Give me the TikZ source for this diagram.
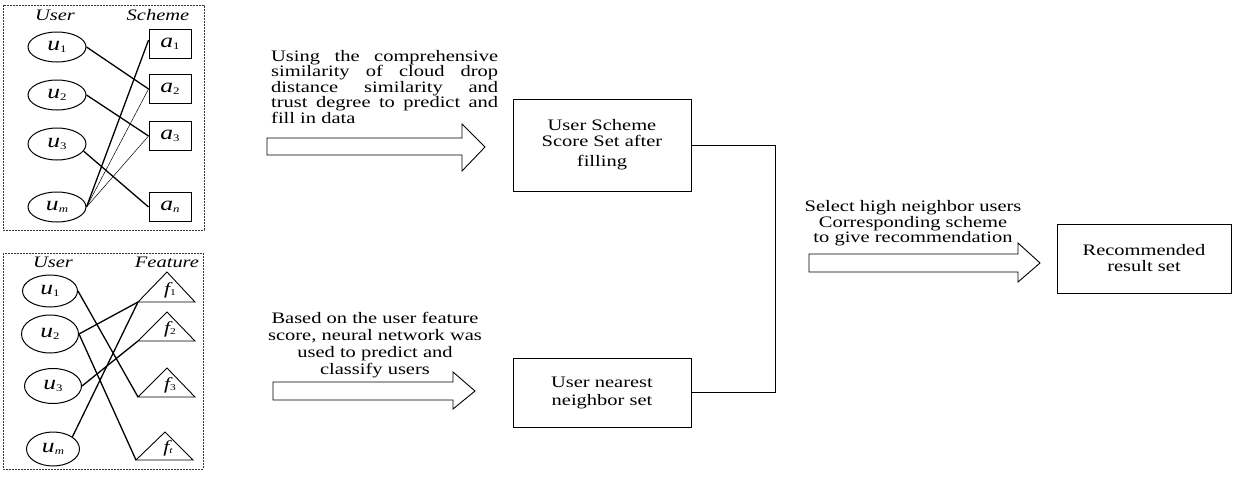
\documentclass[tikz,border=0pt]{standalone}
\usepackage{fontspec}
\setmainfont{Liberation Serif}[FakeStretch=1.28]
\usetikzlibrary{shapes.geometric}
\newcommand\lbl[2]{{\fontsize{20}{20}\selectfont\itshape #1}\raisebox{-1.5pt}{\fontsize{10}{10}\selectfont #2}}
\newcommand\flbl[2]{{\fontsize{17}{17}\selectfont\itshape #1}\raisebox{-1pt}{\fontsize{9}{9}\selectfont #2}}
\begin{document}
\begin{tikzpicture}[x=1pt,y=-1pt,
  txt/.style={font=\fontsize{16}{15.5}\selectfont, inner sep=0pt},
  hdr/.style={font=\fontsize{16}{16}\selectfont\itshape, inner sep=0pt, anchor=base},
  frame/.style={draw=black!80, line width=0.6pt, dash pattern=on 2pt off 1pt},
  bigbox/.style={draw, line width=0.9pt, inner sep=0pt, align=center, font=\fontsize{16}{16}\selectfont},
  ell/.style={draw, ellipse, line width=1pt, inner sep=0pt},
  sq/.style={draw, line width=0.9pt, inner sep=0pt, minimum width=42pt, minimum height=29pt},
  tri/.style={draw, line width=0.9pt, line join=miter},
  link/.style={line width=1.3pt},
  thinlink/.style={line width=0.5pt},
  blockarrow/.style={draw, line width=0.9pt, line join=miter}
]
\useasboundingbox (0,0) rectangle (1233,479);

% ---------- top panel ----------
\draw[frame] (3,5) rectangle (204,230);
\node[hdr] (hu1) at (55,20) {User};
\node[hdr] (hs) at (158,20) {Scheme};
\node[ell, minimum width=58pt, minimum height=30pt] (u1) at (57,47) {\lbl{u}{1}};
\node[ell, minimum width=58pt, minimum height=30pt] (u2) at (57,95) {\lbl{u}{2}};
\node[ell, minimum width=58pt, minimum height=32pt] (u3) at (57,144) {\lbl{u}{3}};
\node[ell, minimum width=58pt, minimum height=30pt] (um) at (57,207) {\lbl{u}{\itshape m}};
\node[sq] (a1) at (170,44) {\lbl{a}{1}};
\node[sq] (a2) at (170,89) {\lbl{a}{2}};
\node[sq] (a3) at (170,136) {\lbl{a}{3}};
\node[sq] (an) at (170,207) {\lbl{a}{\itshape n}};
\draw[link] (u1.east) -- (a2.west);
\draw[link] (u2.east) -- (a3.west);
\draw[link] (u3.-15) -- (an.west);
\draw[link] (um.east) -- ([yshift=4pt]a1.west);
\draw[thinlink] (um.east) -- (a2.west);
\draw[thinlink] (um.east) -- (a3.west);

% ---------- bottom panel ----------
\draw[frame] (3,253) rectangle (203,469);
\node[hdr] (hu2) at (53,267) {User};
\node[hdr] (hf) at (167,267) {Feature};
\node[ell, minimum width=55pt, minimum height=32pt] (bu1) at (50,291) {\lbl{u}{1}};
\node[ell, minimum width=57pt, minimum height=38pt] (bu2) at (50,334) {\lbl{u}{2}};
\node[ell, minimum width=57pt, minimum height=35pt] (bu3) at (53,386) {\lbl{u}{3}};
\node[ell, minimum width=53pt, minimum height=34pt] (bum) at (53,449) {\lbl{u}{\itshape m}};
\coordinate (f1l) at (138,302);
\coordinate (f2l) at (138,341);
\coordinate (f3l) at (138,397);
\coordinate (ftl) at (136,460);
\draw[tri] (f1l) -- (167,272) -- (195,302) -- cycle;
\draw[tri] (f2l) -- (167,312) -- (195,341) -- cycle;
\draw[tri] (f3l) -- (167,368) -- (195,397) -- cycle;
\draw[tri] (ftl) -- (165,432) -- (193,460) -- cycle;
\node[inner sep=0pt] (f1) at (170,290) {\flbl{f}{1}};
\node[inner sep=0pt] (f2) at (170,329) {\flbl{f}{2}};
\node[inner sep=0pt] (f3) at (170,385) {\flbl{f}{3}};
\node[inner sep=0pt] (ft) at (168,448) {\flbl{f}{\itshape t}};
\draw[link] (bu1.east) -- (f3l);
\draw[link] (bu2.east) -- (f1l);
\draw[link] (bu2.east) -- (ftl);
\draw[link] (bu3.east) -- (f2l);
\draw[link] (bum.32) -- (f1l);

% ---------- block arrows ----------
\draw[blockarrow] (267,138) -- (462,138) -- (462,124) -- (485,147) -- (462,171) -- (462,155) -- (267,155) -- cycle;
\draw[blockarrow] (273,382) -- (453,382) -- (453,372) -- (475,391) -- (453,409) -- (453,400) -- (273,400) -- cycle;
\draw[blockarrow] (809,254) -- (1018,254) -- (1018,243) -- (1040,263) -- (1018,282) -- (1018,272) -- (809,272) -- cycle;

% ---------- texts ----------
\node[txt, anchor=north west, text width=227pt, align=justify] (t1) at (271,50)
  {Using the comprehensive\linebreak similarity of cloud drop\linebreak distance similarity and\linebreak trust degree to predict and\linebreak fill in data};
\node[txt, font=\fontsize{16}{17}\selectfont, anchor=north, align=center] (t2) at (375,312)
  {Based on the user feature\\score, neural network was\\used to predict and\\classify users};
\node[txt, anchor=north, align=center] (t3) at (913,200.5)
  {Select high neighbor users\\Corresponding scheme\\to give recommendation};

% ---------- boxes ----------
\node[bigbox, minimum width=178pt, minimum height=92pt] (sb) at (602,145)
  {User Scheme\\Score Set after\\[4pt]filling};
\node[bigbox, minimum width=178pt, minimum height=69pt] (nb) at (602,392.5)
  {User nearest\\[2pt]neighbor set};
\node[bigbox, minimum width=174pt, minimum height=69pt] (rb) at (1144,258.5)
  {Recommended\\result set};
\coordinate (j) at (775,145);
\draw[line width=0.9pt] (sb.east) -- (j) |- (nb.east);
\end{tikzpicture}
\end{document}
